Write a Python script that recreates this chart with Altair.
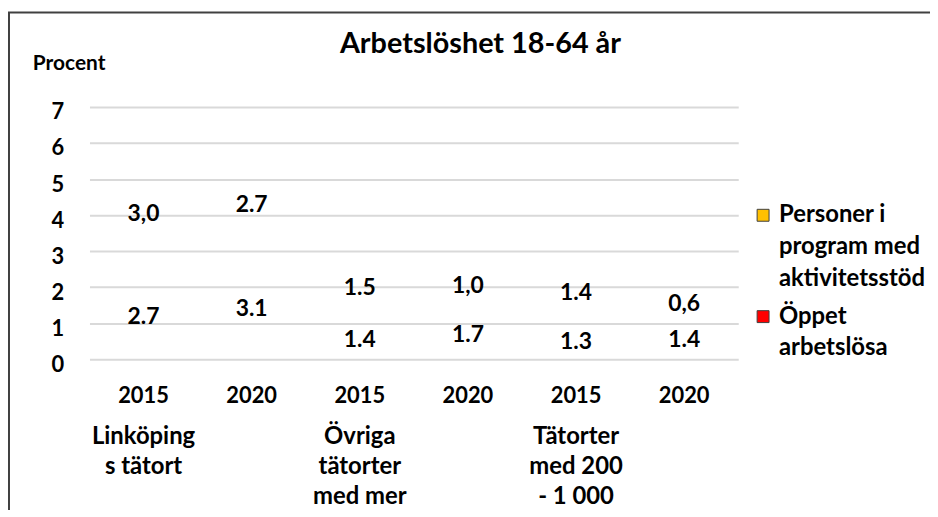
import altair as alt
import pandas as pd

years = ["2015", "2020", "2015", "2020", "2015", "2020"]
groups = ["Linköping|s tätort", "", "Övriga|tätorter|med mer", "", "Tätorter|med 200|- 1 000", ""]
series = ["Personer i|program med|aktivitetsstöd", "Öppet|arbetslösa"]
colors = ["#FFC000", "#FF0000"]
open_values = [2.7, 3.1, 1.4, 1.7, 1.3, 1.4]
open_labels = ["2.7", "3.1", "1.4", "1.7", "1.3", "1.4"]
prog_values = [3.0, 2.7, 1.5, 1.0, 1.4, 0.6]
prog_labels = ["3,0", "2.7", "1.5", "1,0", "1.4", "0,6"]
y_ticks = [0, 1, 2, 3, 4, 5, 6, 7]

keys = [f"{i}#{y}#{g}" for i, (y, g) in enumerate(zip(years, groups))]
rows = []
for i, k in enumerate(keys):
    rows.append({"key": k, "series": series[1], "value": open_values[i], "label": open_labels[i], "order": 0})
    rows.append({"key": k, "series": series[0], "value": prog_values[i], "label": prog_labels[i], "order": 1})
df = pd.DataFrame(rows)

FONT = "Lato"

base = alt.Chart(df).transform_stack(
    stack="value", groupby=["key"], as_=["v0", "v1"], sort=[alt.SortField("order")]
).transform_calculate(mid="(datum.v0 + datum.v1) / 2")

yscale = alt.Scale(domain=[0, 7], nice=False)
yaxis = alt.Axis(values=y_ticks, title="Procent", titleAngle=0, titleX=-21, titleY=-44,
                 titleAlign="center", titleBaseline="middle", titleFont=FONT,
                 titleFontSize=21, titleFontWeight="bold", titleColor="#000",
                 labelFont=FONT, labelFontSize=22, labelFontWeight="bold",
                 labelColor="#000", labelPadding=26, labelOffset=5, domain=False,
                 ticks=False, grid=True, gridColor="#d9d9d9", gridWidth=2)

bars = base.mark_bar(opacity=0).encode(
    x=alt.X("key:N", sort=keys, title=None,
            axis=alt.Axis(orient="bottom", labelExpr="split(datum.value,'#')[1]", labelAngle=0,
                          labelPadding=26, domain=False, ticks=False, grid=False, labelFont=FONT,
                          labelFontSize=22, labelFontWeight="bold", labelColor="#000")),
    y=alt.Y("v0:Q", scale=yscale, axis=yaxis),
    y2="v1:Q",
    color=alt.Color("series:N", scale=alt.Scale(domain=series, range=colors),
                    legend=alt.Legend(title=None, orient="none", legendX=666, legendY=97,
                                      labelExpr="split(datum.label,'|')", labelFont=FONT,
                                      labelFontSize=24, labelFontWeight="bold", labelColor="#000",
                                      labelLimit=300, symbolType="square", symbolSize=144,
                                      symbolOpacity=1, symbolStrokeColor="#404040",
                                      symbolStrokeWidth=1, rowPadding=14, padding=0)),
)

texts = base.mark_text(font=FONT, fontSize=23, fontWeight="bold", color="#000",
                       baseline="middle", dy=6).encode(
    x=alt.X("key:N", sort=keys, title=None,
            axis=alt.Axis(orient="bottom", labelExpr="split(split(datum.value,'#')[2],'|')",
                          labelAngle=0, labelPadding=66, labelLineHeight=30, domain=False,
                          ticks=False, labelFont=FONT, labelFontSize=24, labelFontWeight="bold",
                          labelColor="#000", grid=False)),
    y=alt.Y("mid:Q", scale=yscale, axis=yaxis),
    text="label:N",
)

frame = alt.Chart(alt.Data(values=[{}])).mark_rect(fillOpacity=0, stroke="#404040", strokeWidth=2).encode(
    x=alt.value(-81), x2=alt.value(860), y=alt.value(-95), y2=alt.value(430)
)

chart = alt.layer(bars, texts, frame).resolve_axis(x="independent").properties(
    width=653, height=254,
    autosize=alt.AutoSizeParams(type="none"),
    padding={"left": 82, "top": 98, "right": 193, "bottom": 150},
    title=alt.TitleParams("Arbetslöshet 18-64 år", font=FONT, fontSize=29, fontWeight="bold",
                          color="#000", anchor="middle", frame="group", dx=67, offset=0, dy=48),
).configure(
    view=alt.ViewConfig(stroke=None),
    axis=alt.AxisConfig(labelBound=False),
    style={"guide-label": {"lineHeight": 32}},
)

chart.save("out.html", embed_options={"renderer": "svg", "actions": False})
